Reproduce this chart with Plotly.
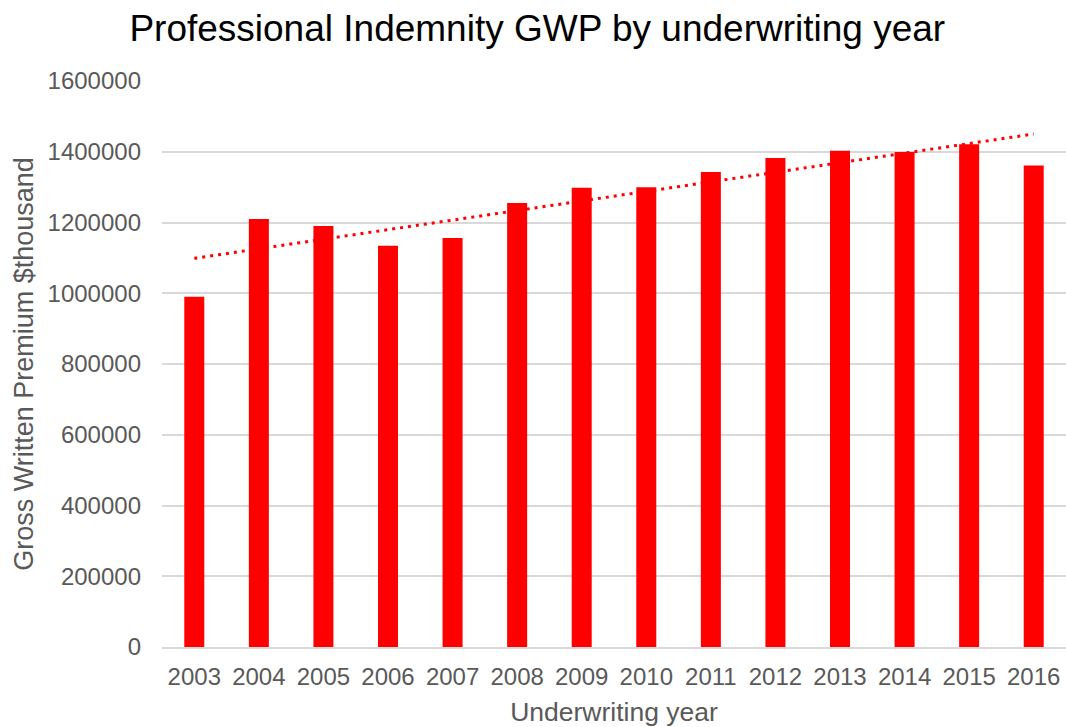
import numpy as np
import plotly.graph_objects as go

years = ["2003", "2004", "2005", "2006", "2007", "2008", "2009",
         "2010", "2011", "2012", "2013", "2014", "2015", "2016"]
gwp = [990000, 1210000, 1190000, 1134000, 1156000, 1255000, 1298000,
       1300000, 1343000, 1382000, 1403000, 1399000, 1421000, 1361000]
y_ticks = [0, 200000, 400000, 600000, 800000, 1000000, 1200000, 1400000, 1600000]

# linear trendline computed from the data
xi = np.arange(len(gwp))
slope, intercept = np.polyfit(xi, gwp, 1)
trend = slope * xi + intercept

font_family = "Liberation Sans, Arial, sans-serif"
grey = "#595959"

fig = go.Figure()
fig.add_trace(go.Bar(x=years, y=gwp, marker=dict(color="#FF0000", line=dict(width=0)),
                     width=0.31, showlegend=False))
fig.add_trace(go.Scatter(x=years, y=trend, mode="lines",
                         line=dict(color="#FF0000", width=3, dash="3px,5px"),
                         showlegend=False))

fig.update_layout(
    width=1066, height=727,
    margin=dict(l=162, r=0, t=81, b=80),
    paper_bgcolor="white", plot_bgcolor="white",
    font=dict(family=font_family, color=grey, size=24),
    title=dict(text="Professional Indemnity GWP by underwriting year",
               font=dict(size=37, color="#000000", family=font_family),
               x=0.504, xref="container", xanchor="center",
               y=1 - 28 / 727, yref="container", yanchor="middle"),
    bargap=0.69,
)
fig.update_xaxes(
    type="category", showgrid=False, showline=True, linecolor="#d9d9d9", linewidth=2,
    ticks="", ticklabelstandoff=7, tickfont=dict(size=24, color=grey), automargin=False,
    title=dict(text="Underwriting year", font=dict(size=26.5, color=grey), standoff=14),
)
fig.update_yaxes(
    range=[0, 1600000], tickvals=y_ticks, ticktext=[str(v) for v in y_ticks],
    showgrid=True, gridcolor="#d9d9d9", gridwidth=1.5, zeroline=False, automargin=False,
    ticks="", ticklabelstandoff=20, tickfont=dict(size=24, color=grey),
    title=dict(text="Gross Written Premium $thousand", font=dict(size=27, color=grey), standoff=6),
)

fig.write_html("out.html")
